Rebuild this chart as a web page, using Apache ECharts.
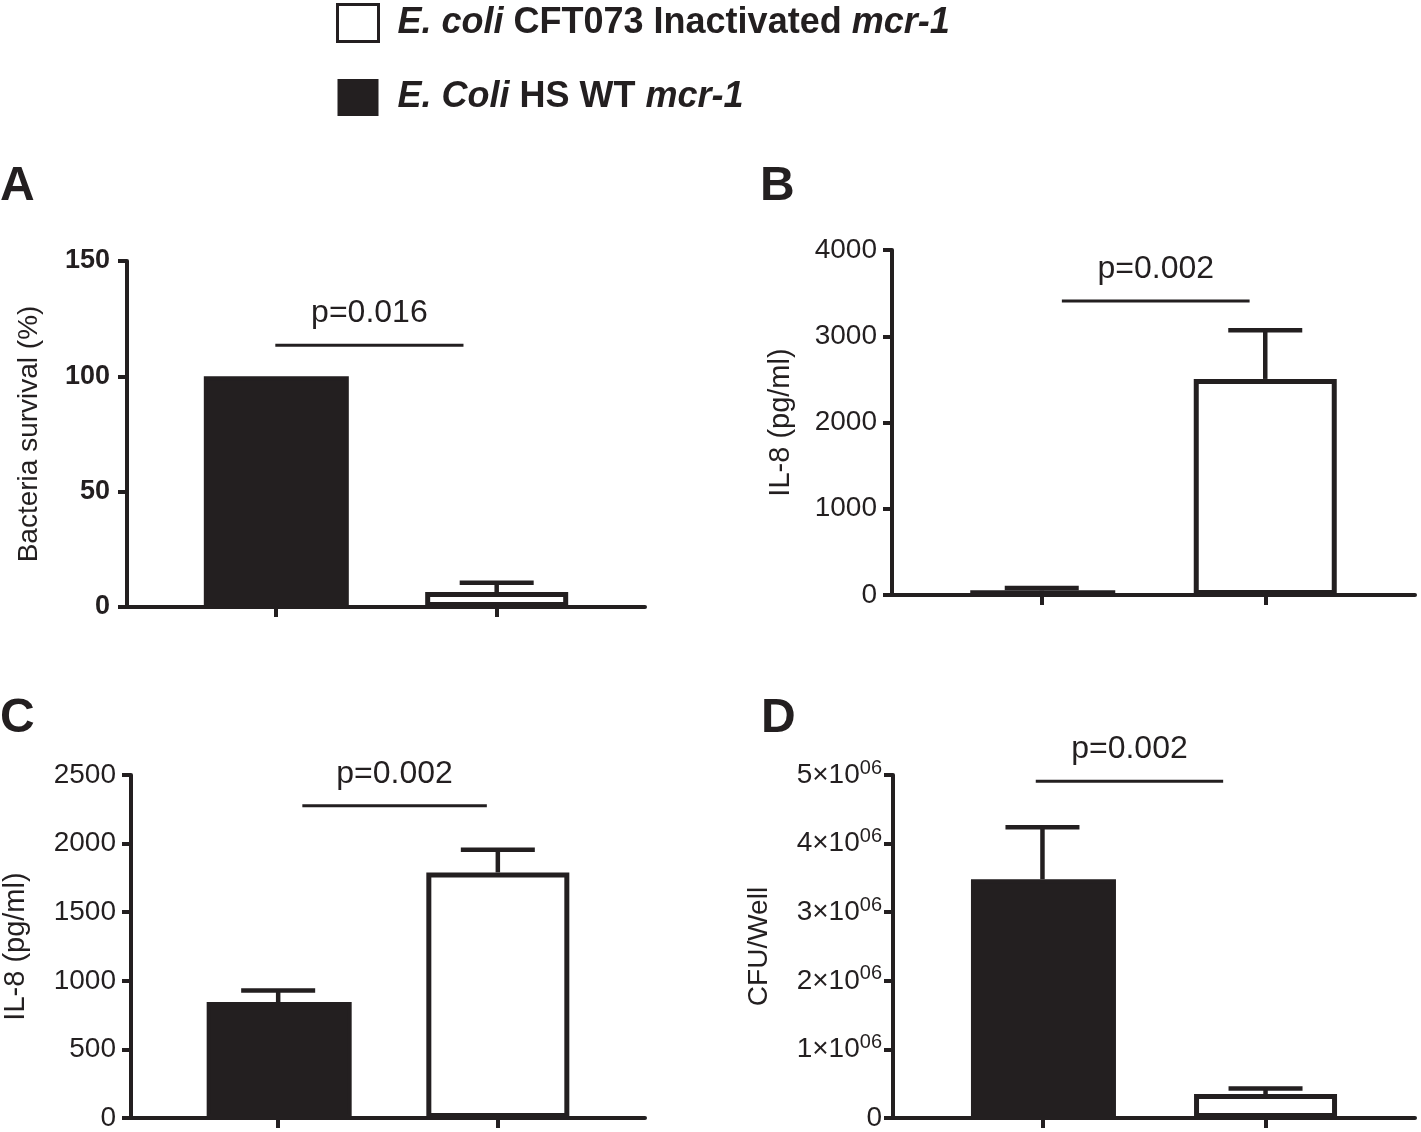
<!DOCTYPE html>
<html>
<head>
<meta charset="utf-8">
<script src="https://cdn.jsdelivr.net/npm/echarts@6/dist/echarts.min.js"></script>
<style>
  html, body { margin: 0; padding: 0; background: #fff; }
  #chart { width: 1421px; height: 1132px; }
</style>
</head>
<body>
<div id="chart"></div>
<script>
// groups: black = HS WT, white = CFT073 inactivated
const groupNames = ['E. Coli HS WT mcr-1', 'E. coli CFT073 Inactivated mcr-1'];
const groupX = [1, 2];

// panel A - bacteria survival (%)
const survivalMean = [100, 6.5];
const survivalErr = [null, 10.5];
const survivalTicks = [0, 150, 50];
const survivalP = [1.0, 1.85, 113.5, 'p=0.016'];

// panel B - IL-8 (pg/ml)
const il8BMean = [55, 2505];
const il8BErr = [80, 3070];
const il8BTicks = [0, 4000, 1000];
const il8BP = [1.09, 1.93, 3410, 'p=0.002'];

// panel C - IL-8 (pg/ml)
const il8CMean = [845, 1790];
const il8CErr = [930, 1955];
const il8CTicks = [0, 2500, 500];
const il8CP = [1.11, 1.95, 2276, 'p=0.002'];

// panel D - CFU/Well
const cfuMean = [3.48e6, 0.35e6];
const cfuErr = [4.24e6, 0.43e6];
const cfuTicks = [0, 5e6, 1e6];
const cfuP = [0.97, 1.81, 4.91e6, 'p=0.002'];

const ink = '#231f20';
const font = '"Liberation Sans", Arial, Helvetica, sans-serif';

const chart = echarts.init(document.getElementById('chart'));

const panels = [
  { letter: 'A', mean: survivalMean, err: survivalErr, ticks: survivalTicks, p: survivalP,
    name: 'Bacteria survival (%)', nameSize: 28, grid: { left: 127, right: 776, top: 261, bottom: 525 },
    nameGap: 84, labelMargin: 17, bold: true, lx: 0, ly: 163 },
  { letter: 'B', mean: il8BMean, err: il8BErr, ticks: il8BTicks, p: il8BP,
    name: 'IL-8 (pg/ml)', nameSize: 29, grid: { left: 892, right: 6, top: 250, bottom: 537 },
    nameGap: 97, labelMargin: 15, lx: 760, ly: 163 },
  { letter: 'C', mean: il8CMean, err: il8CErr, ticks: il8CTicks, p: il8CP,
    name: 'IL-8 (pg/ml)', nameSize: 29, grid: { left: 126, right: 776, top: 775, bottom: 11 },
    nameGap: 101, labelMargin: 15, lx: 0, ly: 695 },
  { letter: 'D', mean: cfuMean, err: cfuErr, ticks: cfuTicks, p: cfuP,
    name: 'CFU/Well', nameSize: 28, grid: { left: 893, right: 6, top: 775, bottom: 11 },
    nameGap: 120, labelMargin: 11, sci: true, lx: 761, ly: 695 }
];

function sciLabel(v) {
  if (v === 0) return '{a|0}';
  return '{a|' + Math.round(v / 1e6) + '×10}{s|06}';
}

function errorBar(params, api) {
  const x = api.value(0);
  const base = api.coord([x, api.value(1)]);
  const top = api.coord([x, api.value(2)]);
  const st = { stroke: ink, lineWidth: 4.5 };
  return {
    type: 'group',
    children: [
      { type: 'line', shape: { x1: base[0], y1: base[1], x2: top[0], y2: top[1] }, style: st },
      { type: 'line', shape: { x1: top[0] - 37, y1: top[1], x2: top[0] + 37, y2: top[1] }, style: st }
    ]
  };
}

function pLine(params, api) {
  const a = api.coord([api.value(0), api.value(2)]);
  const b = api.coord([api.value(1), api.value(2)]);
  return {
    type: 'group',
    children: [
      { type: 'line', shape: { x1: a[0], y1: a[1], x2: b[0], y2: b[1] }, style: { stroke: ink, lineWidth: 3 } },
      { type: 'text', x: (a[0] + b[0]) / 2, y: a[1] - 32,
        style: { text: api.value(3), fill: ink, font: '32px ' + font, align: 'center', verticalAlign: 'middle' } }
    ]
  };
}

const grid = [], xAxis = [], yAxis = [], series = [], title = [];

panels.forEach((pn, i) => {
  grid.push(pn.grid);
  title.push({ text: pn.letter, left: pn.lx, top: pn.ly, padding: 0,
    textStyle: { fontSize: 48, fontWeight: 'bold', color: ink, fontFamily: font } });
  xAxis.push({
    type: 'value', gridIndex: i, min: 0.33, max: 2.67,
    axisLine: { show: true, onZero: false, lineStyle: { color: ink, width: 4 } },
    axisTick: { show: true, customValues: groupX, length: 10, lineStyle: { color: ink, width: 4 } },
    axisLabel: { show: false }, splitLine: { show: false }
  });
  yAxis.push({
    type: 'value', gridIndex: i, min: pn.ticks[0], max: pn.ticks[1], interval: pn.ticks[2],
    name: pn.name, nameLocation: 'middle', nameGap: pn.nameGap, nameRotate: 90,
    nameTextStyle: { fontSize: pn.nameSize, color: ink, fontFamily: font },
    axisLine: { show: true, lineStyle: { color: ink, width: 4 } },
    axisTick: { show: true, length: 9, lineStyle: { color: ink, width: 4 } },
    splitLine: { show: false },
    axisLabel: pn.sci ? {
      margin: pn.labelMargin, formatter: sciLabel,
      rich: {
        a: { fontSize: 28, color: ink, fontFamily: font },
        s: { fontSize: 20, color: ink, fontFamily: font, verticalAlign: 'top', padding: [0, 0, 14, 0] }
      }
    } : {
      margin: pn.labelMargin, formatter: v => String(v),
      fontSize: pn.bold ? 27 : 28, color: ink, fontFamily: font,
      fontWeight: pn.bold ? 'bold' : 'normal'
    }
  });
  series.push({
    name: groupNames[0], type: 'bar', xAxisIndex: i, yAxisIndex: i,
    barWidth: 145, barGap: '-100%',
    itemStyle: { color: ink, borderColor: ink, borderWidth: 4 },
    data: [[groupX[0], pn.mean[0]]]
  });
  series.push({
    name: groupNames[1], type: 'bar', xAxisIndex: i, yAxisIndex: i,
    barWidth: 143, barGap: '-100%',
    itemStyle: { color: '#fff', borderColor: ink, borderWidth: 5 },
    data: [[groupX[1], pn.mean[1]]]
  });
  series.push({
    type: 'custom', xAxisIndex: i, yAxisIndex: i, z: 5, renderItem: errorBar,
    data: groupX.map((x, k) => [x, pn.mean[k], pn.err[k]]).filter(d => d[2] != null)
  });
  series.push({
    type: 'custom', xAxisIndex: i, yAxisIndex: i, z: 5, renderItem: pLine,
    data: [pn.p]
  });
});

const legendText = {
  [groupNames[1]]: '{i|E. coli }{b|CFT073 Inactivated }{i|mcr-1}',
  [groupNames[0]]: '{i|E. Coli }{b|HS WT }{i|mcr-1}'
};

chart.setOption({
  animation: false,
  backgroundColor: '#fff',
  title: title,
  legend: {
    orient: 'vertical', left: 336, top: 3, padding: 0,
    itemWidth: 41, itemHeight: 37, itemGap: 36,
    data: [
      { name: groupNames[1], icon: 'rect', itemStyle: { color: '#fff', borderColor: ink, borderWidth: 3 } },
      { name: groupNames[0], icon: 'rect', itemStyle: { color: ink, borderColor: ink, borderWidth: 0 } }
    ],
    formatter: name => legendText[name],
    textStyle: {
      lineHeight: 37, padding: [0, 0, 0, 14],
      rich: {
        i: { fontSize: 36, lineHeight: 37, fontWeight: 'bold', fontStyle: 'italic', color: ink, fontFamily: font },
        b: { fontSize: 36, lineHeight: 37, fontWeight: 'bold', color: ink, fontFamily: font }
      }
    }
  },
  grid: grid,
  xAxis: xAxis,
  yAxis: yAxis,
  series: series
});
</script>
</body>
</html>
